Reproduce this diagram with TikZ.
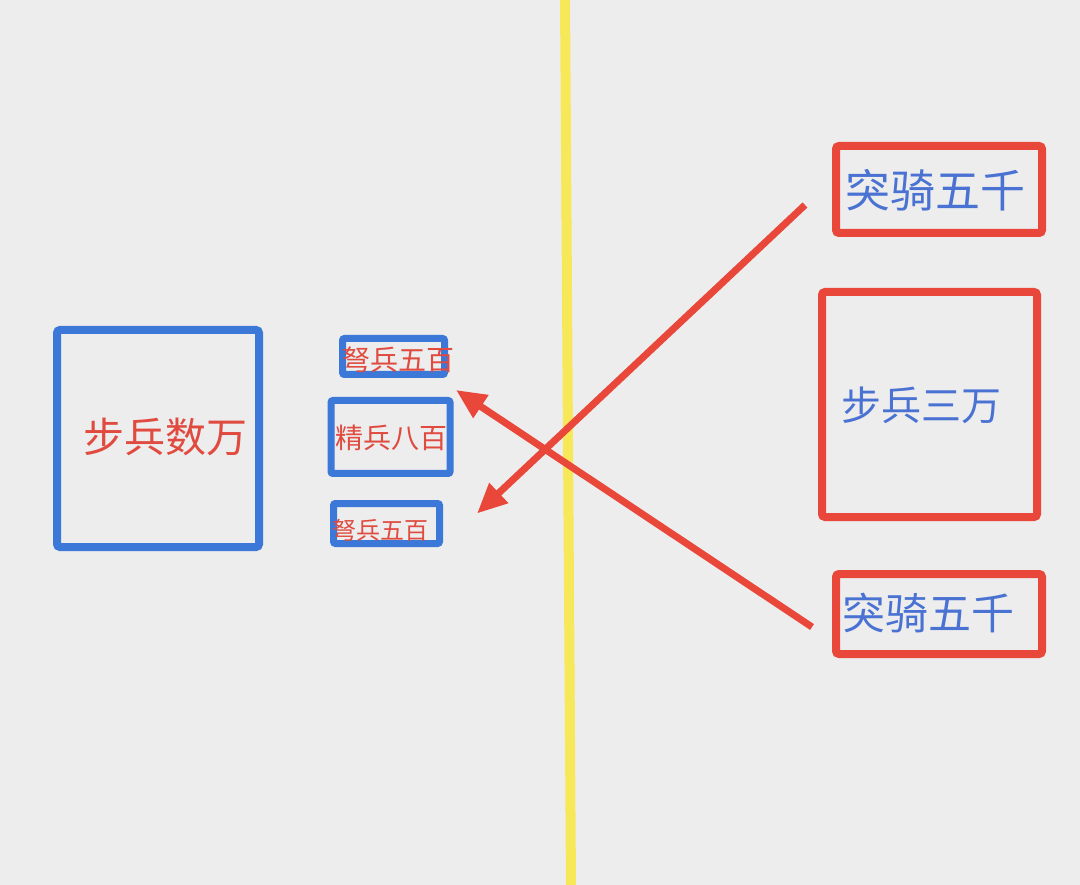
\documentclass[tikz,border=0pt]{standalone}
\usepackage{fontspec}
\setmainfont{Noto Sans CJK SC}
\usetikzlibrary{arrows.meta, calc}

\definecolor{bgGray}{HTML}{EDEDED}
\definecolor{boxBlue}{HTML}{3B78D8}
\definecolor{boxRed}{HTML}{E8473A}
\definecolor{txtRed}{HTML}{E04A3F}
\definecolor{txtBlue}{HTML}{4A72D3}
\definecolor{lineYellow}{HTML}{F6E858}

\begin{document}
\begin{tikzpicture}[
  x=1pt, y=-1pt,
  box/.style={draw, rounded corners=3pt, inner sep=0pt},
  bluebox/.style={box, draw=boxBlue, line width=8pt},
  smallbox/.style={box, draw=boxBlue, line width=7pt, rounded corners=2pt},
  redbox/.style={box, draw=boxRed, line width=8pt},
  redlabel/.style={text=txtRed, inner sep=0pt},
  bluelabel/.style={text=txtBlue, inner sep=0pt},
  attack/.style={draw=boxRed, line width=7pt,
    -{Triangle[length=30pt,width=26pt]}},
]

% background and frame
\fill[bgGray] (0,0) rectangle (1080,885);
\useasboundingbox (0,0) rectangle (1080,885);

% river line
\coordinate (riverTop) at (565,-2);
\coordinate (riverBot) at (571,887);
\draw[lineYellow, line width=10pt] (riverTop) -- (riverBot);

% left side
\node[bluebox, minimum width=202pt, minimum height=217pt] (bubing) at (158,438.5) {};
\node[redlabel, font=\fontsize{41pt}{45pt}\selectfont] at (165,437) {步兵数万};

\node[smallbox, minimum width=102pt, minimum height=36pt] (nubingA) at (393.5,356.5) {};
\node[redlabel, font=\fontsize{28pt}{30pt}\selectfont] at (398,360) {弩兵五百};

\node[smallbox, minimum width=119pt, minimum height=73pt] (jingbing) at (390.5,437) {};
\node[redlabel, font=\fontsize{28pt}{30pt}\selectfont] at (391,438) {精兵八百};

\node[smallbox, minimum width=106pt, minimum height=40pt] (nubingB) at (386.5,523.5) {};
\node[redlabel, font=\fontsize{24pt}{26pt}\selectfont] at (380,530) {弩兵五百};

% right side
\node[redbox, minimum width=206pt, minimum height=87pt] (tuqiA) at (939,189.5) {};
\node[bluelabel, font=\fontsize{45pt}{48pt}\selectfont] at (935,190) {突骑五千};

\node[redbox, minimum width=215pt, minimum height=225pt] (bubingR) at (929.5,404.5) {};
\node[bluelabel, font=\fontsize{40pt}{44pt}\selectfont] at (921,405) {步兵三万};

\node[redbox, minimum width=206pt, minimum height=80pt] (tuqiB) at (939,614) {};
\node[bluelabel, font=\fontsize{43pt}{46pt}\selectfont] at (928,613) {突骑五千};

% charges
\coordinate (chargeA) at ($(tuqiA.west)+(-27,15.5)$);
\coordinate (hitA) at ($(nubingB.east)+(34,-10)$);
\coordinate (chargeB) at ($(tuqiB.west)+(-20,13)$);
\coordinate (hitB) at ($(nubingA.south east)+(8,12)$);
\draw[attack] (chargeA) -- (hitA);
\draw[attack] (chargeB) -- (hitB);

\end{tikzpicture}
\end{document}
